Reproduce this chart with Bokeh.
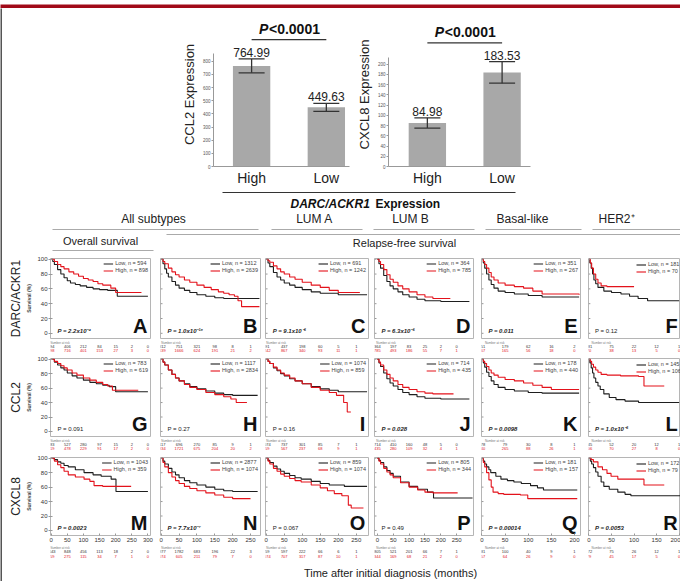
from bokeh.plotting import figure
from bokeh.layouts import row, column
from bokeh.models import (Range1d, FixedTicker, LinearAxis, Legend, LegendItem,
                          Whisker, TeeHead, ColumnDataSource, Spacer)
from bokeh.embed import file_html
from bokeh.resources import INLINE
from bokeh.core.properties import value

FONT = "Liberation Sans"
RED = "#e3121b"
BLACK = "#1e1e1e"
BAR = "#a8a8a8"

# ---------------- bar chart data ----------------
groups = ["High", "Low"]
ccl2_mean = [764.99, 449.63]
ccl2_err = [53.0, 30.0]
cxcl8_mean = [84.98, 183.53]
cxcl8_err = [10.0, 21.0]
ccl2_ticks = [0, 100, 200, 300, 400, 500, 600, 700, 800]
cxcl8_ticks = [0, 20, 40, 60, 80, 100, 120, 140, 160, 180, 200]
p_bar = "<0.0001"

# ---------------- header texts ----------------
subtype_names = ["All subtypes", "LUM A", "LUM B", "Basal-like", "HER2\u207a"]
row_names = ["DARC/ACKR1", "CCL2", "CXCL8"]
letters = list("ABCDEFGHIJKLMNOPQR")

# ---------------- KM panel data ----------------
n_low = [594, 1312, 691, 364, 351, 181, 783, 1117, 1074, 714, 178, 145, 1043, 2877, 859, 805, 181, 172]
n_high = [898, 2639, 1242, 785, 267, 70, 619, 2834, 859, 435, 440, 106, 359, 1074, 1074, 344, 157, 79]
p_text = ["2.2x10\u207b\u2074", "1.0x10\u207b\u00b9\u2075", "9.1x10\u207b\u2076", "6.3x10\u207b\u2076", "0.011", "0.12",
          "0.091", "0.27", "0.16", "0.028", "0.0098", "1.0x10\u207b\u2076",
          "0.0023", "7.7x10\u207b\u2077", "0.067", "0.49", "0.00014", "0.0053"]
p_sig = [True, True, True, True, True, False, False, False, False, True, True, True,
         True, True, False, False, True, True]

A_low_t = [0, 5, 10, 20, 30, 40, 50, 60, 75, 90, 110, 130, 150, 175, 205, 300]
A_low_s = [100, 97, 93, 86, 80, 75, 71, 68, 66, 64, 62, 60, 59, 58, 50, 50]
A_high_t = [0, 10, 20, 30, 40, 55, 70, 85, 100, 115, 130, 145, 160, 185, 200, 280]
A_high_s = [100, 97, 93, 90, 87, 83, 80, 77, 74, 72, 70, 67, 65, 61, 55, 55]
B_low_t = [0, 5, 10, 15, 20, 30, 40, 50, 65, 80, 100, 125, 150, 175, 275]
B_low_s = [100, 94, 87, 81, 76, 70, 65, 61, 58, 55, 52, 50, 48, 47, 47]
B_high_t = [0, 5, 10, 20, 30, 40, 50, 65, 80, 100, 120, 140, 160, 175, 190, 205, 215, 225, 275]
B_high_s = [100, 97, 94, 88, 83, 79, 76, 72, 69, 65, 62, 59, 56, 54, 52, 50, 44, 36, 36]
C_low_t = [0, 5, 10, 20, 30, 40, 50, 65, 80, 100, 125, 150, 200, 280]
C_low_s = [100, 95, 90, 82, 76, 72, 68, 65, 62, 59, 56, 54, 52, 52]
C_high_t = [0, 5, 10, 20, 30, 40, 50, 65, 80, 100, 125, 150, 175, 200, 260]
C_high_s = [100, 98, 96, 91, 87, 83, 80, 76, 73, 69, 65, 62, 58, 55, 55]
D_low_t = [0, 5, 10, 20, 30, 40, 50, 65, 80, 100, 125, 150, 200, 290]
D_low_s = [100, 94, 88, 78, 70, 64, 60, 56, 52, 49, 46, 44, 43, 43]
D_high_t = [0, 5, 10, 20, 30, 40, 50, 65, 80, 100, 125, 150, 175, 230]
D_high_s = [100, 97, 93, 86, 79, 73, 69, 64, 60, 56, 52, 49, 47, 47]
E_low_t = [0, 3, 6, 10, 15, 20, 26, 35, 50, 70, 100, 130, 210]
E_low_s = [100, 95, 88, 80, 72, 66, 61, 57, 55, 53, 51, 49, 49]
E_high_t = [0, 3, 6, 10, 15, 20, 26, 35, 50, 70, 90, 110, 130, 210]
E_high_s = [100, 97, 93, 88, 82, 76, 72, 68, 65, 63, 61, 57, 53, 52]
F_low_t = [0, 2, 5, 8, 11, 15, 20, 33, 50, 71, 90, 109, 130, 200]
F_low_s = [100, 95, 88, 80, 72, 67, 62, 57, 55, 53, 50, 47, 44, 44]
F_high_t = [0, 3, 6, 10, 15, 20, 27, 40, 100]
F_high_s = [100, 95, 88, 80, 73, 68, 64, 63, 63]
G_low_t = [0, 10, 20, 30, 40, 50, 65, 80, 100, 120, 140, 160, 180, 200, 300]
G_low_s = [100, 96, 92, 88, 85, 81, 77, 74, 71, 68, 66, 64, 62, 55, 55]
G_high_t = [0, 10, 20, 30, 40, 50, 65, 80, 100, 120, 140, 160, 175, 190, 270]
G_high_s = [100, 97, 94, 91, 88, 85, 81, 78, 74, 71, 68, 65, 63, 57, 57]
H_low_t = [0, 5, 10, 20, 30, 40, 50, 65, 80, 100, 125, 150, 175, 200, 270]
H_low_s = [100, 96, 92, 85, 79, 74, 70, 66, 62, 59, 56, 53, 51, 50, 50]
H_high_t = [0, 5, 10, 20, 30, 40, 50, 65, 80, 100, 125, 150, 175, 195, 210, 240]
H_high_s = [100, 96, 92, 85, 79, 74, 70, 65, 61, 58, 54, 51, 48, 45, 40, 40]
I_low_t = [0, 5, 10, 20, 30, 40, 50, 65, 80, 100, 125, 150, 175, 200, 280]
I_low_s = [100, 97, 94, 88, 84, 80, 77, 73, 70, 66, 62, 59, 57, 55, 55]
I_high_t = [0, 5, 10, 20, 30, 40, 50, 65, 80, 100, 125, 150, 175, 195, 215, 225, 235]
I_high_s = [100, 97, 94, 89, 85, 81, 78, 74, 70, 66, 61, 57, 54, 50, 40, 27, 27]
J_low_t = [0, 5, 10, 20, 30, 40, 50, 65, 80, 100, 125, 150, 200, 290]
J_low_s = [100, 95, 90, 81, 73, 67, 63, 58, 54, 51, 48, 46, 45, 45]
J_high_t = [0, 5, 10, 20, 30, 40, 50, 65, 80, 100, 125, 150, 175, 240]
J_high_s = [100, 96, 92, 85, 79, 74, 70, 65, 61, 58, 55, 53, 52, 52]
K_low_t = [0, 3, 6, 10, 15, 20, 26, 35, 50, 70, 100, 130, 210]
K_low_s = [100, 95, 89, 82, 76, 70, 65, 61, 58, 56, 54, 53, 53]
K_high_t = [0, 3, 6, 10, 15, 20, 26, 35, 50, 70, 90, 110, 130, 150, 210]
K_high_s = [100, 97, 94, 90, 85, 81, 78, 75, 72, 70, 67, 64, 61, 58, 58]
L_low_t = [0, 2, 5, 8, 11, 15, 20, 25, 33, 45, 60, 80, 110, 200]
L_low_s = [100, 95, 88, 81, 74, 68, 63, 58, 52, 47, 44, 42, 40, 40]
L_high_t = [0, 3, 6, 10, 15, 20, 27, 40, 70, 110, 122, 167]
L_high_s = [100, 97, 93, 89, 85, 82, 79, 78, 77, 76, 63, 63]
M_low_t = [0, 10, 20, 30, 40, 53, 75, 102, 130, 155, 186, 201, 300]
M_low_s = [100, 98, 95, 93, 90, 88, 84, 80, 77, 75, 71, 54, 54]
M_high_t = [0, 10, 20, 30, 40, 53, 75, 102, 120, 133, 160, 186, 248]
M_high_s = [100, 96, 91, 87, 82, 77, 74, 71, 68, 62, 61, 61, 61]
N_low_t = [0, 5, 10, 20, 30, 40, 50, 65, 80, 100, 125, 150, 175, 200, 270]
N_low_s = [100, 96, 92, 86, 81, 77, 73, 69, 66, 63, 60, 57, 55, 54, 54]
N_high_t = [0, 5, 10, 20, 30, 40, 50, 65, 80, 100, 125, 150, 175, 200, 250]
N_high_s = [100, 94, 88, 80, 74, 69, 65, 61, 58, 55, 52, 49, 46, 44, 44]
O_low_t = [0, 5, 10, 20, 30, 40, 50, 65, 80, 97, 125, 150, 175, 217, 280]
O_low_s = [100, 97, 94, 89, 85, 82, 79, 76, 73, 71, 68, 65, 63, 61, 61]
O_high_t = [0, 5, 10, 20, 30, 40, 50, 65, 80, 97, 125, 150, 170, 189, 210, 228, 236, 270]
O_high_s = [100, 96, 92, 86, 82, 78, 75, 72, 69, 67, 63, 59, 55, 51, 48, 35, 31, 31]
P_low_t = [0, 5, 10, 20, 30, 40, 50, 73, 100, 127, 158, 177, 300]
P_low_s = [100, 97, 94, 88, 83, 79, 75, 67, 61, 57, 53, 45, 45]
P_high_t = [0, 5, 10, 20, 30, 40, 50, 73, 100, 127, 150, 175, 253]
P_high_s = [100, 96, 92, 86, 81, 77, 73, 66, 60, 56, 53, 52, 52]
Q_low_t = [0, 3, 6, 10, 15, 19, 30, 41, 55, 69, 85, 105, 120, 133, 206]
Q_low_s = [100, 96, 92, 88, 84, 80, 75, 71, 69, 67, 65, 62, 59, 56, 56]
Q_high_t = [0, 3, 6, 10, 15, 20, 24, 35, 47, 83, 99, 206]
Q_high_s = [100, 94, 88, 80, 70, 60, 53, 51, 50, 49, 44, 44]
R_low_t = [0, 3, 6, 10, 15, 20, 27, 33, 45, 64, 80, 93, 204]
R_low_s = [100, 96, 92, 87, 81, 75, 67, 61, 57, 53, 50, 48, 48]
R_high_t = [0, 5, 10, 20, 30, 40, 49, 64, 122, 167]
R_high_s = [100, 98, 95, 88, 84, 79, 75, 71, 63, 63]

# number at risk (low row / high row), at the column's time ticks
A_risk = [[594, 406, 212, 84, 15, 2, 0], [898, 716, 401, 153, 27, 3, 0]]
B_risk = [[1312, 751, 321, 98, 8, 1], [2639, 1666, 624, 191, 21, 2]]
C_risk = [[691, 437, 198, 60, 5, 1], [1242, 867, 340, 93, 11, 1]]
D_risk = [[364, 197, 83, 25, 2, 0], [785, 493, 186, 55, 7, 1]]
E_risk = [[351, 179, 62, 16, 2], [267, 165, 56, 18, 0]]
F_risk = [[181, 75, 22, 12, 1], [70, 38, 13, 5, 0]]
G_risk = [[783, 527, 280, 97, 15, 2, 0], [619, 478, 229, 91, 17, 2, 0]]
H_risk = [[1117, 696, 270, 85, 9, 1], [2834, 1721, 675, 204, 20, 2]]
I_risk = [[1074, 737, 301, 85, 7, 1], [859, 567, 237, 68, 9, 1]]
J_risk = [[714, 410, 160, 48, 5, 0], [435, 280, 109, 32, 4, 1]]
K_risk = [[178, 79, 30, 8, 1], [440, 265, 88, 26, 1]]
L_risk = [[145, 52, 20, 12, 1], [106, 70, 27, 8, 0]]
M_risk = [[1043, 848, 456, 113, 18, 2, 0], [359, 275, 115, 34, 7, 1, 0]]
N_risk = [[2877, 1782, 683, 196, 22, 3], [1074, 605, 211, 79, 7, 0]]
O_risk = [[859, 597, 222, 66, 6, 1], [1074, 707, 317, 87, 10, 1]]
P_risk = [[805, 521, 201, 66, 7, 1], [344, 169, 68, 21, 2, 0]]
Q_risk = [[181, 100, 40, 9, 1], [157, 64, 26, 9, 0]]
R_risk = [[172, 75, 26, 12, 1], [79, 45, 17, 5, 0]]

col_ticks = [[0, 50, 100, 150, 200, 250, 300], [0, 50, 100, 150, 200, 250],
             [0, 50, 100, 150, 200, 250], [0, 50, 100, 150, 200, 250],
             [0, 50, 100, 150, 200], [0, 50, 100, 150, 200]]
surv_ticks = [0, 20, 40, 60, 80, 100]

# ---------------- layout geometry (pixels) ----------------
col_w = [153, 107, 108, 106, 108, 96]
col_lb = [48, 5, 3, 4, 5, 4]
col_rb = [5, 2, 2, 3, 4, 0]
col_x0 = [-2, -2, -2, -9, -1, -1]
col_x1 = [308, 278, 284, 303, 213, 203]
row_h = [86, 83, 91]
row_tb = [4, 3, 3]
row_bb = [2, 2, 10]
strip_h = [15, 16, 17]
strip_y = [[2, 6, 10], [2, 6, 10], [2, 6, 11]]
Y0, Y1 = -7, 101

curves = dict(A=(A_low_t, A_low_s, A_high_t, A_high_s, A_risk), B=(B_low_t, B_low_s, B_high_t, B_high_s, B_risk),
              C=(C_low_t, C_low_s, C_high_t, C_high_s, C_risk), D=(D_low_t, D_low_s, D_high_t, D_high_s, D_risk),
              E=(E_low_t, E_low_s, E_high_t, E_high_s, E_risk), F=(F_low_t, F_low_s, F_high_t, F_high_s, F_risk),
              G=(G_low_t, G_low_s, G_high_t, G_high_s, G_risk), H=(H_low_t, H_low_s, H_high_t, H_high_s, H_risk),
              I=(I_low_t, I_low_s, I_high_t, I_high_s, I_risk), J=(J_low_t, J_low_s, J_high_t, J_high_s, J_risk),
              K=(K_low_t, K_low_s, K_high_t, K_high_s, K_risk), L=(L_low_t, L_low_s, L_high_t, L_high_s, L_risk),
              M=(M_low_t, M_low_s, M_high_t, M_high_s, M_risk), N=(N_low_t, N_low_s, N_high_t, N_high_s, N_risk),
              O=(O_low_t, O_low_s, O_high_t, O_high_s, O_risk), P=(P_low_t, P_low_s, P_high_t, P_high_s, P_risk),
              Q=(Q_low_t, Q_low_s, Q_high_t, Q_high_s, Q_risk), R=(R_low_t, R_low_s, R_high_t, R_high_s, R_risk))


def blank(width, height, color, xr=(0, 1), yr=(0, 1), lb=0, rb=0):
    p = figure(width=width, height=height, x_range=Range1d(*xr), y_range=Range1d(*yr),
               output_backend="svg", toolbar_location=None,
               x_axis_location=None, y_axis_location=None,
               min_border_left=lb, min_border_right=rb, min_border_top=0, min_border_bottom=0)
    p.grid.visible = False
    p.outline_line_color = None
    p.background_fill_color = color
    p.border_fill_color = color
    return p


def bar_chart(gene, means, errs, yticks, width, lb, rb, xr, yend, ybound):
    p = figure(width=width, height=180, x_range=Range1d(*xr), y_range=Range1d(0, yend),
               output_backend="svg", toolbar_location=None,
               min_border_left=lb, min_border_right=rb, min_border_top=14, min_border_bottom=20)
    p.grid.visible = False
    p.outline_line_color = None
    pos = [1, 2]
    up = [m + e for m, e in zip(means, errs)]
    lo = [m - e for m, e in zip(means, errs)]
    src = ColumnDataSource(dict(x=pos, top=means, upper=up, lower=lo,
                                label=[f"{m:.2f}" for m in means]))
    p.vbar(x="x", top="top", width=0.5, source=src, fill_color=BAR, line_color=None)
    wh = Whisker(base="x", upper="upper", lower="lower", source=src, line_color="#333333",
                 line_width=1.3, level="overlay",
                 upper_head=TeeHead(size=26, line_color="#333333", line_width=1.3),
                 lower_head=TeeHead(size=26, line_color="#333333", line_width=1.3))
    p.add_layout(wh)
    p.text(x="x", y="upper", text="label", source=src, text_align="center",
           text_baseline="bottom", y_offset=-2, text_font=value(FONT),
           text_font_size="12px", text_color="#222222")
    yl = max(up) * 1.18
    p.segment(x0=[pos[0]], x1=[pos[1]], y0=[yl], y1=[yl], line_color="#333333", line_width=1.2)
    xm = (pos[0] + pos[1]) / 2
    p.text(x=[xm], y=[yl], text=["P"], x_offset=-30, y_offset=-3, text_align="left",
           text_baseline="bottom", text_font=value(FONT), text_font_size="14px",
           text_font_style="bold italic", text_color="#111111")
    p.text(x=[xm], y=[yl], text=[p_bar], x_offset=-20, y_offset=-3, text_align="left",
           text_baseline="bottom", text_font=value(FONT), text_font_size="14px",
           text_font_style="bold", text_color="#111111")
    xa = p.xaxis[0]
    xa.ticker = FixedTicker(ticks=pos)
    xa.major_label_overrides = {pos[0]: groups[0], pos[1]: groups[1]}
    xa.major_label_text_font = FONT
    xa.major_label_text_font_size = "14px"
    xa.major_label_text_color = "#222222"
    xa.major_label_standoff = 3
    xa.major_tick_in = 0
    xa.major_tick_out = 0
    xa.major_tick_line_color = None
    xa.minor_tick_line_color = None
    xa.axis_line_color = "#999999"
    ya = p.yaxis[0]
    ya.ticker = FixedTicker(ticks=yticks)
    ya.bounds = (0, ybound)
    ya.axis_label = f"{gene} Expression"
    ya.axis_label_text_font = FONT
    ya.axis_label_text_font_style = "normal"
    ya.axis_label_text_font_size = "13px"
    ya.axis_label_text_color = "#222222"
    ya.axis_label_standoff = 3
    ya.major_label_text_font_size = "4.5px"
    ya.major_label_text_color = "#555555"
    ya.major_label_standoff = 1
    ya.major_tick_in = 0
    ya.major_tick_out = 2
    ya.minor_tick_line_color = None
    ya.axis_line_color = "#999999"
    ya.major_tick_line_color = "#999999"
    return p


def km_panel(idx):
    ri, ci = divmod(idx, 6)
    letter = letters[idx]
    lo_t, lo_s, hi_t, hi_s, risk = curves[letter]
    x0, x1 = col_x0[ci], col_x1[ci]
    p = figure(width=col_w[ci], height=row_h[ri], x_range=Range1d(x0, x1), y_range=Range1d(Y0, Y1),
               output_backend="svg", toolbar_location=None,
               min_border_left=col_lb[ci], min_border_right=col_rb[ci],
               min_border_top=row_tb[ri], min_border_bottom=row_bb[ri])
    p.grid.visible = False
    p.outline_line_color = "#b5b5b5"
    r_lo = p.step(x=lo_t, y=lo_s, mode="after", line_color=BLACK, line_width=1.1)
    r_hi = p.step(x=hi_t, y=hi_s, mode="after", line_color=RED, line_width=1.1)
    frame_h = row_h[ri] - row_tb[ri] - row_bb[ri]
    loc = (48, frame_h - 16) if ci == 5 else "top_right"
    leg = Legend(items=[LegendItem(label=f"Low, n = {n_low[idx]}", renderers=[r_lo]),
                        LegendItem(label=f"High, n = {n_high[idx]}", renderers=[r_hi])],
                 location=loc, label_text_font=FONT, label_text_font_size="5.5px",
                 label_height=5, glyph_height=5, glyph_width=10, spacing=1, padding=1,
                 margin=2, label_standoff=2, border_line_color=None, background_fill_alpha=0)
    p.add_layout(leg)
    xs = x1 - x0
    ys = Y1 - Y0
    # small inner tick marks on the left edge of panels without a labelled axis
    if ci > 0:
        p.segment(x0=[x0] * len(surv_ticks), x1=[x0 + 0.02 * xs] * len(surv_ticks),
                  y0=surv_ticks, y1=surv_ticks, line_color="#999999", line_width=1)
    p.text(x=[x0 + 0.07 * xs], y=[Y0 + 0.09 * ys], text=[f"P = {p_text[idx]}"],
           text_baseline="middle", text_align="left", text_font=value(FONT),
           text_font_size="6px", text_color="#222222",
           text_font_style="bold italic" if p_sig[idx] else "normal")
    p.text(x=[x1 - 0.03 * xs], y=[Y0 + 0.02 * ys], text=[letter], text_align="right",
           text_baseline="bottom", text_font=value(FONT), text_font_size="20px",
           text_font_style="bold", text_color="#111111")
    ticks = col_ticks[ci]
    xa = p.xaxis[0]
    if ri == 2:
        xa.ticker = FixedTicker(ticks=ticks)
        xa.axis_line_color = None
        xa.major_tick_in = 2
        xa.major_tick_out = 0
        xa.major_tick_line_color = "#999999"
        xa.minor_tick_line_color = None
        xa.major_label_text_font = FONT
        xa.major_label_text_color = "#333333"
        xa.major_label_text_font_size = "6px"
        xa.major_label_standoff = 2
    else:
        xa.visible = False
    ya = p.yaxis[0]
    if ci == 0:
        ya.ticker = FixedTicker(ticks=surv_ticks)
        ya.axis_line_color = None
        ya.major_tick_in = 2
        ya.major_tick_out = 2
        ya.minor_tick_line_color = None
        ya.major_tick_line_color = "#999999"
        ya.major_label_text_font = FONT
        ya.major_label_text_font_size = "6px"
        ya.major_label_text_color = "#333333"
        ya.major_label_standoff = 1
        ya.axis_label = "Survival (%)"
        ya.axis_label_text_font = FONT
        ya.axis_label_text_font_size = "5px"
        ya.axis_label_text_font_style = "bold"
        ya.axis_label_standoff = 2
        extra = LinearAxis(ticker=FixedTicker(ticks=[]), axis_label=row_names[ri],
                           axis_line_color=None, major_tick_line_color=None,
                           minor_tick_line_color=None, major_tick_in=0, major_tick_out=0,
                           axis_label_text_font=FONT, axis_label_text_font_size="12px",
                           axis_label_text_font_style="normal", axis_label_text_color="#222222",
                           axis_label_standoff=1)
        p.add_layout(extra, "left")
    else:
        ya.visible = False
    # number-at-risk strip, sharing the panel's x range
    sh = strip_h[ri]
    sy = strip_y[ri]
    s = blank(col_w[ci], sh, "white", xr=(x0, x1), yr=(sh, 0), lb=col_lb[ci], rb=col_rb[ci])
    s.x_range = p.x_range
    s.text(x=[ticks[1] * 0.55], y=[sy[0]], text=["Number at risk"], text_align="center",
           text_baseline="middle", text_font=value(FONT), text_font_size="3px", text_color="#777777")
    s.text(x=ticks, y=[sy[1]] * len(ticks), text=[str(v) for v in risk[0]], text_align="center",
           text_baseline="middle", text_font=value(FONT), text_font_size="4px", text_color="#333333")
    s.text(x=ticks, y=[sy[2]] * len(ticks), text=[str(v) for v in risk[1]], text_align="center",
           text_baseline="middle", text_font=value(FONT), text_font_size="4px", text_color=RED)
    return column(p, s)


# ---------------- build ----------------
band = blank(680, 8, "#a10a19")
leftbar = blank(2, 573, "#555555")

ccl2 = bar_chart("CCL2", ccl2_mean, ccl2_err, ccl2_ticks, 203, 63, 4, (0.49, 2.31), 1095, 860)
cxcl8 = bar_chart("CXCL8", cxcl8_mean, cxcl8_err, cxcl8_ticks, 182, 27, 5, (0.48, 2.38), 281, 212)
bar_row = row(Spacer(width=148, height=180), ccl2, cxcl8, Spacer(width=145, height=180))

hdr = blank(678, 66, "white", xr=(2, 680), yr=(254, 188))
hdr.segment(x0=[222], x1=[515], y0=[192], y1=[192], line_color="#333333", line_width=1.2)
hdr.text(x=[290], y=[203], text=["DARC/ACKR1"], text_baseline="middle", text_align="left",
         text_font=value(FONT), text_font_size="12px", text_font_style="bold italic", text_color="#111111")
hdr.text(x=[290], y=[203], text=["Expression"], x_offset=85, text_baseline="middle", text_align="left",
         text_font=value(FONT), text_font_size="12px", text_font_style="bold", text_color="#111111")
sub_cx = [153, 314, 410, 522, 616]
sub_x0 = [52, 271, 373, 485, 592]
sub_x1 = [258, 362, 474, 581, 681]
hdr.text(x=sub_cx, y=[218] * 5, text=subtype_names, text_align="center", text_baseline="middle",
         text_font=value(FONT), text_font_size="12px", text_color="#222222")
hdr.segment(x0=sub_x0, x1=sub_x1, y0=[229] * 5, y1=[229] * 5, line_color="#aaaaaa", line_width=1.2)
hdr.text(x=[100, 404], y=[240, 242], text=["Overall survival", "Relapse-free survival"],
         text_align="center", text_baseline="middle", text_font=value(FONT),
         text_font_size="11px", text_color="#222222")
hdr.segment(x0=[52, 166], x1=[153, 681], y0=[250, 234], y1=[250, 234], line_color="#aaaaaa", line_width=1.2)

km_rows = [row(*[km_panel(r * 6 + c) for c in range(6)]) for r in range(3)]

tfig = blank(678, 19, "white", xr=(2, 680), yr=(581, 562))
tfig.text(x=[390], y=[572], text=["Time after initial diagnosis (months)"], text_align="center",
          text_baseline="middle", text_font=value(FONT), text_font_size="11px", text_color="#222222")

content = column(bar_row, hdr, *km_rows, tfig)
layout = column(band, row(leftbar, content))

open("out.html", "w").write(file_html(layout, INLINE))
